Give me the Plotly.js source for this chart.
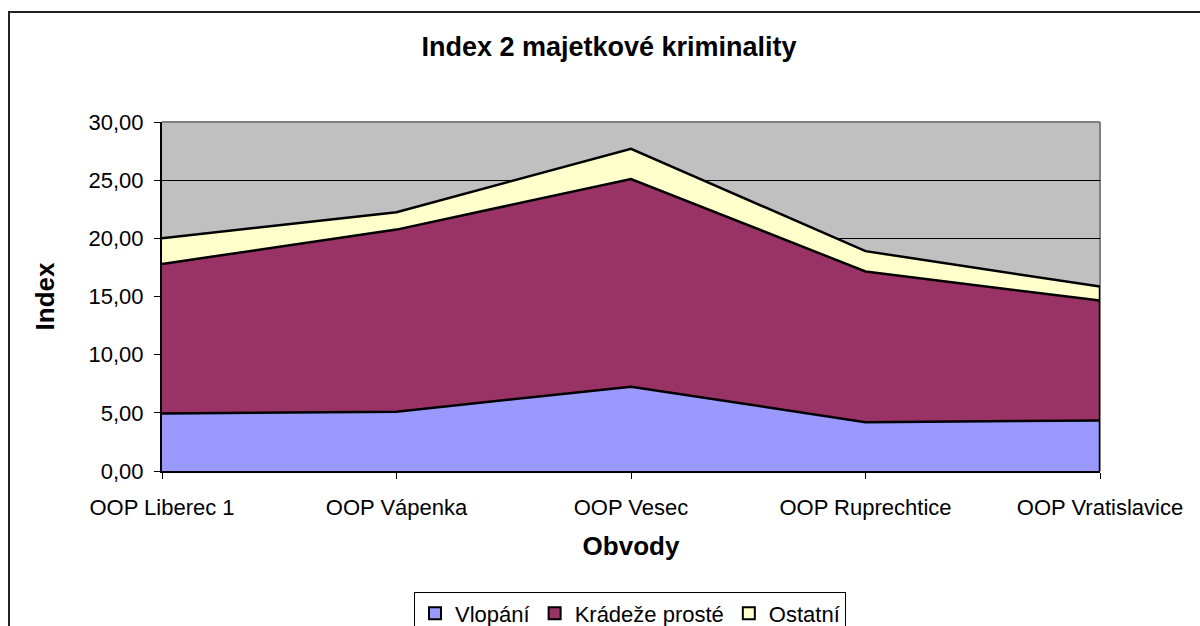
<!DOCTYPE html>
<html>
<head>
<meta charset="utf-8">
<script src="https://cdn.plot.ly/plotly-3.0.1.min.js"></script>
<style>
  html, body { margin: 0; padding: 0; background: #fff; }
  #wrap { position: relative; width: 1200px; height: 626px; overflow: hidden; }
  #chart { width: 1200px; height: 626px; }
  #frame { position: absolute; left: 8px; top: 11px; width: 1300px; height: 700px;
           border: 2px solid #222; pointer-events: none; box-sizing: border-box; }
</style>
</head>
<body>
<div id="wrap">
  <div id="chart"></div>
  <div id="frame"></div>
</div>
<script>
const categories = ["OOP Liberec 1", "OOP Vápenka", "OOP Vesec", "OOP Ruprechtice", "OOP Vratislavice"];
const seriesNames = ["Vlopání", "Krádeže prosté", "Ostatní"];
const vlopani = [4.95, 5.10, 7.25, 4.20, 4.35];
const kradeze = [12.85, 15.65, 17.85, 12.95, 10.30];
const ostatni = [2.20, 1.50, 2.60, 1.75, 1.20];
const yTicks = [0, 5, 10, 15, 20, 25, 30];

const FONT = "Liberation Sans, Arial, sans-serif";
const colors = ["#9999FF", "#993366", "#FFFFCC"];
const series = [vlopani, kradeze, ostatni];
const lastIdx = categories.length - 1;
const totalLast = vlopani[lastIdx] + kradeze[lastIdx] + ostatni[lastIdx];

const traces = [];
series.forEach((vals, i) => {
  traces.push({ x: categories, y: vals, name: seriesNames[i], type: "scatter", mode: "lines",
    stackgroup: "one", fillcolor: colors[i], line: { color: "#000", width: 2.5 },
    showlegend: false, hoverinfo: "skip" });
});
traces.push({ x: [categories[lastIdx], categories[lastIdx]], y: [0, totalLast], type: "scatter", mode: "lines",
  line: { color: "#000", width: 2.5 }, showlegend: false, hoverinfo: "skip" });
// legend entries with square swatches
series.forEach((vals, i) => {
  traces.push({ x: [null], y: [null], name: seriesNames[i], type: "scatter", mode: "markers",
    marker: { symbol: "square", size: 12, color: colors[i], line: { color: "#000", width: 2 } },
    showlegend: true, hoverinfo: "skip" });
});

const layout = {
  width: 1200, height: 626,
  margin: { l: 162, r: 100, t: 122, b: 155, pad: 0 },
  paper_bgcolor: "rgba(0,0,0,0)",
  plot_bgcolor: "#C0C0C0",
  separators: ",.",
  font: { family: FONT, color: "#000", size: 22 },
  title: { text: "<b>Index 2 majetkové kriminality</b>", font: { family: FONT, size: 27, color: "#000" },
           xref: "container", x: 0.5075, xanchor: "center", yref: "container", y: 0.925, yanchor: "middle" },
  xaxis: {
    type: "category", range: [0, lastIdx], showgrid: false, zeroline: false, automargin: false,
    showline: true, linecolor: "#000", linewidth: 2,
    ticks: "outside", ticklen: 6, tickcolor: "#000", tickwidth: 1, ticklabelstandoff: 10,
    tickfont: { family: FONT, size: 22, color: "#000" },
    title: { text: "<b>Obvody</b>", font: { family: FONT, size: 26, color: "#000" }, standoff: 17 }
  },
  yaxis: {
    range: [0, 30], tickvals: yTicks, tickformat: ".2f", automargin: false,
    showgrid: true, gridcolor: "#000", gridwidth: 1, zeroline: false,
    showline: true, linecolor: "#000", linewidth: 2,
    ticks: "outside", ticklen: 6, tickcolor: "#000", tickwidth: 1, ticklabelstandoff: 6,
    tickfont: { family: FONT, size: 22, color: "#000" },
    title: { text: "<b>Index</b>", font: { family: FONT, size: 26, color: "#000" }, standoff: 26 }
  },
  shapes: [
    { type: "line", xref: "paper", yref: "paper", x0: 0, x1: 1, y0: 1, y1: 1, line: { color: "#808080", width: 2 } },
    { type: "line", xref: "paper", yref: "paper", x0: 1, x1: 1, y0: 0, y1: 1, line: { color: "#808080", width: 2 }, layer: "below" }
  ],
  showlegend: true,
  legend: {
    orientation: "h", xref: "container", x: 0.525, xanchor: "center",
    yref: "container", y: 0.055, yanchor: "top",
    bgcolor: "#fff", bordercolor: "#000", borderwidth: 1,
    font: { family: FONT, size: 22, color: "#000" },
    itemwidth: 30, tracegroupgap: 0, traceorder: "normal"
  }
};

Plotly.newPlot("chart", traces, layout, { displayModeBar: false, staticPlot: true });
</script>
</body>
</html>
